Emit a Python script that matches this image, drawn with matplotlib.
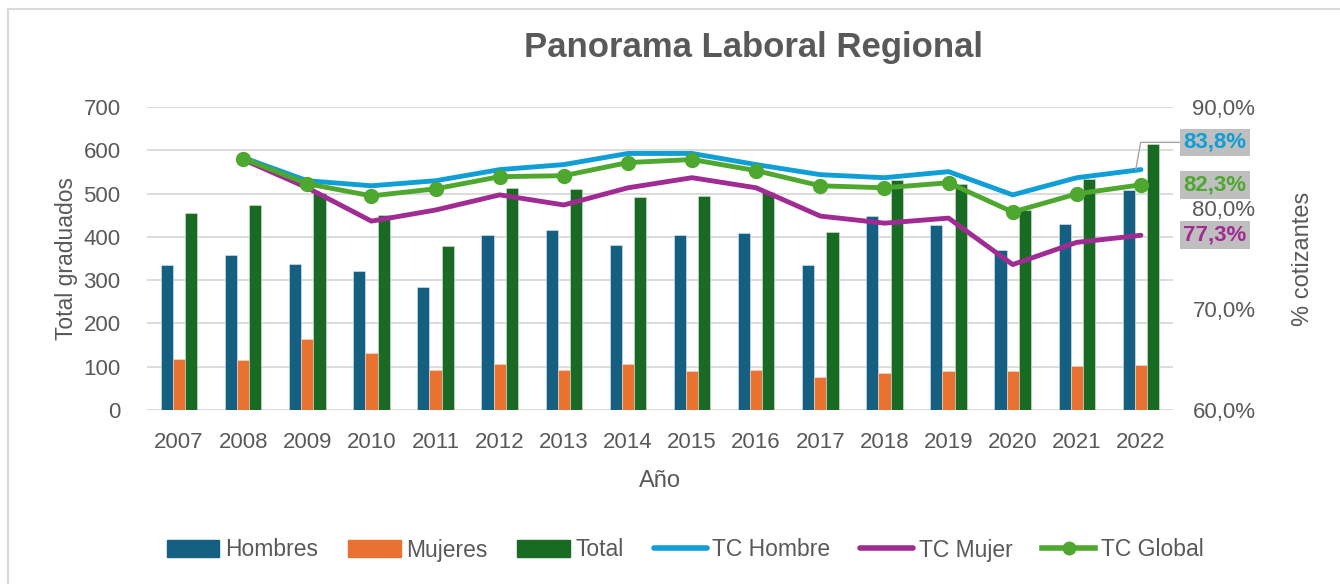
import matplotlib
matplotlib.use("Agg")
import matplotlib.pyplot as plt
from matplotlib.patches import Rectangle
from matplotlib.lines import Line2D
import numpy as np

plt.rcParams["font.family"] = ["Liberation Sans", "DejaVu Sans"]

years = ["2007", "2008", "2009", "2010", "2011", "2012", "2013", "2014",
         "2015", "2016", "2017", "2018", "2019", "2020", "2021", "2022"]
hombres = [336, 358, 337, 320, 285, 405, 416, 382, 404, 410, 334, 448, 428, 369, 430, 508]
mujeres = [117, 115, 165, 131, 93, 107, 93, 107, 89, 93, 77, 85, 91, 90, 102, 105]
total = [454, 474, 502, 451, 379, 513, 511, 491, 494, 504, 412, 532, 521, 462, 533, 615]

# tasas de cotizacion (desde 2008)
tc_hombre = [None, 85.0, 82.7, 82.2, 82.7, 83.8, 84.3, 85.4, 85.4, 84.3, 83.3, 83.0, 83.6, 81.3, 83.0, 83.8]
tc_mujer = [None, 84.8, 82.0, 78.7, 79.8, 81.3, 80.3, 82.0, 83.0, 82.0, 79.2, 78.5, 79.0, 74.4, 76.6, 77.3]
tc_global = [None, 84.9, 82.4, 81.2, 81.9, 83.1, 83.2, 84.5, 84.8, 83.7, 82.2, 82.0, 82.5, 79.6, 81.4, 82.3]

c_h = "#156082"
c_m = "#E97132"
c_t = "#196B24"
c_tch = "#0F9ED5"
c_tcm = "#A02B93"
c_tcg = "#4EA72E"
txt = "#595959"

fig = plt.figure(figsize=(13.4, 5.84), dpi=100)
ax = fig.add_axes([147 / 1340, 1 - 410 / 584, (1173 - 147) / 1340, (410 - 107) / 584])
ax2 = ax.twinx()

x = np.arange(len(years))
w = 0.19
ax.bar(x - w, hombres, w, color=c_h, edgecolor="#dfe8ee", linewidth=0.4, zorder=2)
ax.bar(x, mujeres, w, color=c_m, edgecolor="#f5dccd", linewidth=0.4, zorder=2)
ax.bar(x + w, total, w, color=c_t, edgecolor="#d5e3d7", linewidth=0.4, zorder=2)

ax.set_xlim(-0.5, len(years) - 0.5)
ax.set_ylim(0, 700)
ax.set_yticks(range(0, 701, 100))
ax.set_xticks(x)
ax.set_xticklabels(years)
ax.grid(axis="y", color="#D9D9D9", linewidth=1.3, zorder=0)
ax.set_axisbelow(True)
for s in ax.spines.values():
    s.set_visible(False)
for s in ax2.spines.values():
    s.set_visible(False)
ax.tick_params(length=0, labelsize=16, labelcolor=txt, pad=16)
ax.tick_params(axis="y", pad=19)
ax.set_ylabel("Total graduados", fontsize=16.5, color=txt, labelpad=4)
ax.set_xlabel("Año", fontsize=17, color=txt, labelpad=12)

xl = x[1:]
ax2.plot(xl, tc_hombre[1:], color=c_tch, lw=3.5, solid_capstyle="round", zorder=3)
ax2.plot(xl, tc_mujer[1:], color=c_tcm, lw=3.5, solid_capstyle="round", zorder=3)
ax2.plot(xl, tc_global[1:], color=c_tcg, lw=3.5, marker="o", markersize=10, zorder=4)
ax2.set_ylim(60, 90)
ax2.set_yticks([60, 70, 80, 90])
ax2.set_yticklabels([f"{v:.1f}%".replace(".", ",") for v in [60, 70, 80, 90]])
ax2.tick_params(length=0, labelsize=16, labelcolor=txt, pad=14)
ax2.set_ylabel("% cotizantes", fontsize=17, color=txt, labelpad=26)

# etiquetas finales
bb = dict(boxstyle="square,pad=0.15", facecolor="#BFBFBF", edgecolor="none")
last = len(years) - 1
lx = last + 0.66
ax2.annotate("83,8%", xy=(last - 0.08, tc_hombre[-1]), xytext=(lx, 86.5),
             color=c_tch, fontsize=16, fontweight="bold", va="center", ha="left",
             bbox=bb, annotation_clip=False, zorder=6,
             arrowprops=dict(arrowstyle="-", color="#A6A6A6", lw=1,
                             connectionstyle="angle,angleA=0,angleB=80,rad=0",
                             shrinkA=0, shrinkB=0))
ax2.text(lx, tc_global[-1], "82,3%", color=c_tcg, fontsize=16, fontweight="bold",
         va="center", ha="left", bbox=bb, clip_on=False, zorder=6)
ax2.text(lx, tc_mujer[-1], "77,3%", color=c_tcm, fontsize=16, fontweight="bold",
         va="center", ha="left", bbox=bb, clip_on=False, zorder=6)

fig.text(754 / 1340, 1 - 48 / 584, "Panorama Laboral Regional", ha="center", va="center",
         fontsize=25, fontweight="bold", color=txt)

handles = [
    Rectangle((0, 0), 1, 1, color=c_h),
    Rectangle((0, 0), 1, 1, color=c_m),
    Rectangle((0, 0), 1, 1, color=c_t),
    Line2D([], [], color=c_tch, lw=4, solid_capstyle="round"),
    Line2D([], [], color=c_tcm, lw=4, solid_capstyle="round"),
    Line2D([], [], color=c_tcg, lw=4, marker="o", markersize=9),
]
labels = ["Hombres", "Mujeres", "Total", "TC Hombre", "TC Mujer", "TC Global"]
fig.legend(handles, labels, loc="center", bbox_to_anchor=(685 / 1340, 1 - 550 / 584), ncol=6,
           frameon=False, fontsize=16.5, labelcolor=txt, handlelength=2.3, handleheight=0.7,
           handletextpad=0.25, columnspacing=1.3)

fig.patches.append(Rectangle((8 / 1340, -0.1), 1.2, 1 - 9 / 584 + 0.1, transform=fig.transFigure,
                             fill=False, edgecolor="#D9D9D9", linewidth=1.5))

fig.savefig("out.png", dpi=100)
